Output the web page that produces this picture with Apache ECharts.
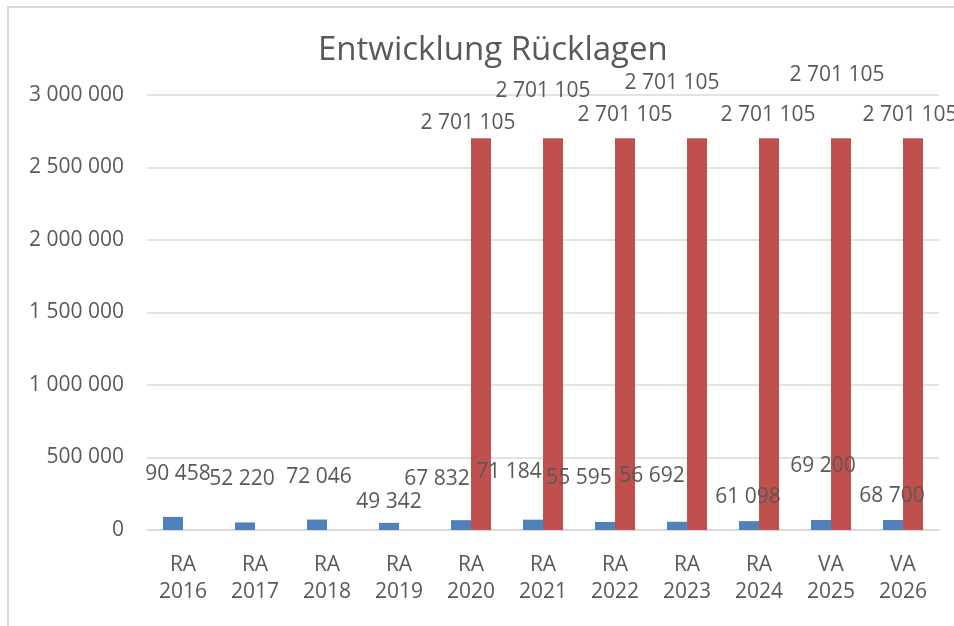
<!DOCTYPE html>
<html>
<head>
<meta charset="utf-8">
<script src="https://cdn.jsdelivr.net/npm/echarts@6/dist/echarts.min.js"></script>
<style>html,body{margin:0;padding:0;background:#fff}#c{width:954px;height:626px}</style>
</head>
<body>
<div id="c"></div>
<script>
// ---- data ----
var titleText = 'Entwicklung Rücklagen';
var categories = ['RA\n2016','RA\n2017','RA\n2018','RA\n2019','RA\n2020','RA\n2021','RA\n2022','RA\n2023','RA\n2024','VA\n2025','VA\n2026'];
var blueValues = [90458, 52220, 72046, 49342, 67832, 71184, 55595, 56692, 61098, 69200, 68700];
var redValues = [null, null, null, null, 2701105, 2701105, 2701105, 2701105, 2701105, 2701105, 2701105];
var yTicks = {min: 0, max: 3000000, interval: 500000};

// ---- layout (label offsets mimic manually placed labels) ----
var blueLabelOffsets = [[5,-32],[-3,-33],[2,-32],[0,-10],[-24,-31],[-24,-37],[-26,-33],[-25,-35],[-1,-14],[2,-43],[-1,-14]];
var redLabelOffsets = [null,null,null,null,[-13,-5],[-10,-37],[0,-13],[-25,-45],[-1,-13],[-4,-53],[-3,-13]];

function fmt(v){ return String(v).replace(/\B(?=(\d{3})+(?!\d))/g, ' '); }
var FONT = '"Open Sans", "Noto Sans", sans-serif';
var TXT = '#595959';

function buildData(vals, offs){
  return vals.map(function(v,i){
    if (v === null) return {value: null};
    return {value: v, label: {offset: offs[i]}};
  });
}

var chart = echarts.init(document.getElementById('c'), null, {renderer:'canvas'});
chart.setOption({
  animation: false,
  backgroundColor: '#ffffff',
  title: {
    text: titleText, left: 313, top: 29,
    textStyle: {fontFamily: FONT, fontSize: 33, fontWeight: 'normal', color: TXT}
  },
  graphic: [{
    type: 'rect', shape: {x: 8, y: 7, width: 1000, height: 700},
    style: {fill: 'none', stroke: '#d9d9d9', lineWidth: 2}, silent: true
  }],
  grid: {left: 147, right: 15, top: 95, bottom: 96, containLabel: false},
  xAxis: {
    type: 'category', data: categories,
    axisTick: {show: false},
    axisLine: {lineStyle: {color: '#d9d9d9', width: 1.5}},
    axisLabel: {fontFamily: FONT, fontSize: 21, color: TXT, lineHeight: 27, margin: 22, interval: 0}
  },
  yAxis: {
    type: 'value', min: yTicks.min, max: yTicks.max, interval: yTicks.interval,
    axisLine: {show: false}, axisTick: {show: false},
    splitLine: {lineStyle: {color: '#d9d9d9', width: 1.5}},
    axisLabel: {fontFamily: FONT, fontSize: 21, color: TXT, margin: 23, formatter: fmt}
  },
  series: [
    {
      type: 'bar', data: buildData(blueValues, blueLabelOffsets), barWidth: 20, barGap: '0%',
      itemStyle: {color: '#4f81bd'},
      label: {show: true, position: 'top', distance: 0, fontFamily: FONT, fontSize: 21, color: TXT,
        formatter: function(p){ return fmt(p.value); }}
    },
    {
      type: 'bar', data: buildData(redValues, redLabelOffsets), barWidth: 20, barGap: '0%',
      itemStyle: {color: '#c0504d'},
      label: {show: true, position: 'top', distance: 0, fontFamily: FONT, fontSize: 21, color: TXT,
        formatter: function(p){ return p.value == null ? '' : fmt(p.value); }}
    }
  ]
});
</script>
</body>
</html>
